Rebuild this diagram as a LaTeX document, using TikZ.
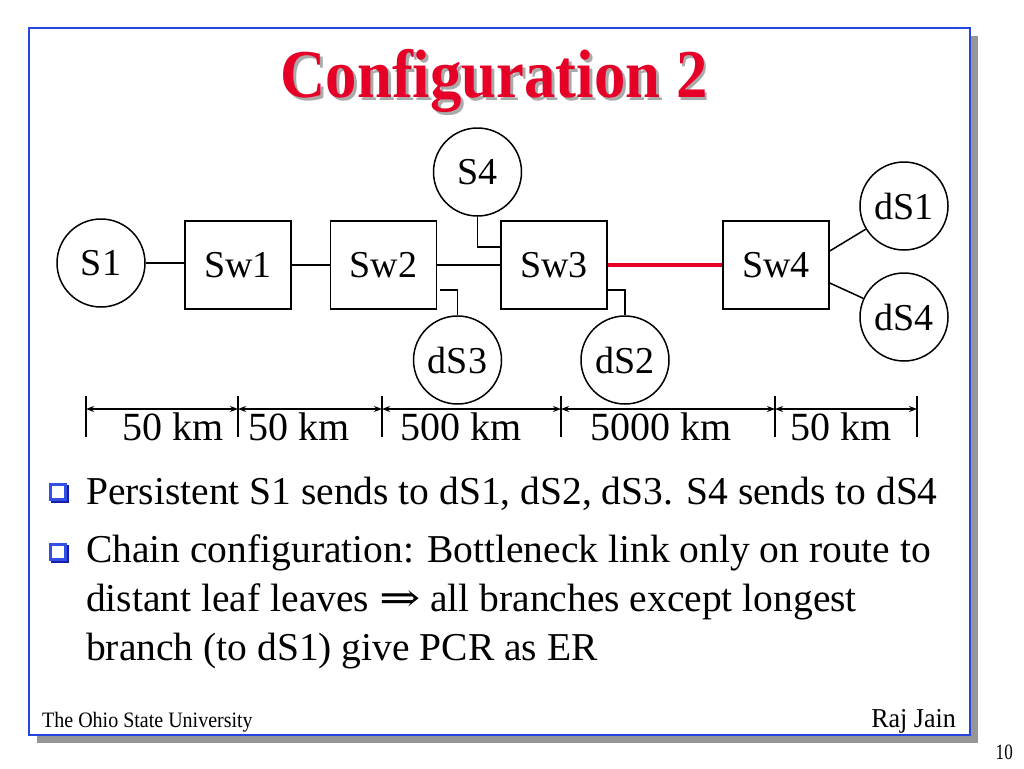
\documentclass[tikz,border=0pt]{standalone}
\usepackage{fontspec}
\setmainfont{Liberation Serif}
\newfontfamily\arrowfont{DejaVu Serif}
\usetikzlibrary{arrows.meta,calc}
\definecolor{frameblue}{RGB}{35,70,220}
\definecolor{titlered}{RGB}{230,0,40}
\definecolor{shadowgrey}{RGB}{150,150,150}
\definecolor{titleshadow}{RGB}{170,170,170}
\definecolor{bulletblue}{RGB}{50,80,230}
\definecolor{bulletdark}{RGB}{20,30,170}
\begin{document}
\begin{tikzpicture}[x=1pt,y=-1pt,
  every node/.style={font=\fontsize{38}{40}\selectfont},
  station/.style={draw,circle,line width=1.5pt,minimum size=88pt,inner sep=0pt},
  switchbox/.style={draw,rectangle,line width=1.5pt,minimum width=106pt,minimum height=88pt,inner sep=0pt},
  link/.style={line width=1.5pt},
  bottleneck/.style={line width=3.5pt,draw=titlered},
  dimline/.style={line width=1.5pt,{Stealth[length=8pt,width=6pt]}-{Stealth[length=8pt,width=6pt]}},
  tickline/.style={line width=1.5pt},
  dimlabel/.style={font=\fontsize{40}{42}\selectfont,anchor=base},
  bodytext/.style={font=\fontsize{39.5}{42}\selectfont,anchor=base west,inner sep=0pt},
  bulletsq/.style={draw=bulletblue,fill=white,line width=3pt,minimum size=15pt,inner sep=0pt},
  bulletsh/.style={fill=bulletdark,minimum size=18pt,inner sep=0pt},
]
\useasboundingbox (0,0) rectangle (1024,768);
\fill[white] (0,0) rectangle (1024,768);
% slide frame with shadow
\fill[shadowgrey] (37,36) rectangle (978,743);
\draw[frameblue,fill=white,line width=2.5pt] (29,28) rectangle (970,735);
% title (with its shadow)
\node[font=\fontsize{64}{64}\bfseries\selectfont,text=titlered,anchor=base,inner sep=0pt] (title) at (494,97)
  {\scalebox{0.98}[1.07]{\makebox[0pt][l]{\hspace{3pt}\raisebox{-3pt}{\color{titleshadow}Configuration 2}}Configuration 2}};
% network
\node[station] (S1) at (101,263) {S1};
\node[switchbox] (Sw1) at (238,265) {Sw1};
\node[switchbox] (Sw2) at (383.5,265) {Sw2};
\node[switchbox] (Sw3) at (554,265) {Sw3};
\node[switchbox] (Sw4) at (776,265) {Sw4};
\node[station] (S4) at (477.5,172) {S4};
\node[station] (dS3) at (457.5,360) {dS3};
\node[station] (dS2) at (625,360) {dS2};
\node[station] (dS1) at (904,206) {dS1};
\node[station] (dS4) at (904,317) {dS4};
\draw[link] (S1.east) -- (Sw1.west |- S1.east);
\draw[link] (Sw1) -- (Sw2);
\draw[link] (Sw2) -- (Sw3);
\draw[bottleneck] (Sw3) -- (Sw4);
\draw[link] (S4.south) |- ([yshift=18pt]Sw3.west);
\draw[link] ([yshift=-25pt,xshift=3pt]Sw2.east) -| (dS3.north);
\draw[link] ([yshift=-25pt]Sw3.east) -| (dS2.north);
\draw[link] ([yshift=14pt]Sw4.east) -- (dS1);
\draw[link] ([yshift=-18pt]Sw4.east) -- (dS4);
% distance scale
\coordinate (t0) at (86,409);
\coordinate (t1) at (238,409);
\coordinate (t2) at (382,409);
\coordinate (t3) at (561,409);
\coordinate (t4) at (775,409);
\coordinate (t5) at (917,409);
\foreach \t in {t0,t1,t2,t3,t4,t5}{
  \draw[tickline] ([yshift=13pt]\t) -- ([yshift=-28pt]\t);
}
\draw[dimline] (t0) -- (t1);
\draw[dimline] (t1) -- (t2);
\draw[dimline] (t2) -- (t3);
\draw[dimline] (t3) -- (t4);
\draw[dimline] (t4) -- (t5);
\node[dimlabel] (d1) at (173,440) {50 km};
\node[dimlabel] (d2) at (299,440) {50 km};
\node[dimlabel] (d3) at (461,440) {500 km};
\node[dimlabel] (d4) at (661,440) {5000 km};
\node[dimlabel] (d5) at (841,440) {50 km};
% bullets
\node[bulletsh] (b1s) at (60,494) {};
\node[bulletsq] (b1) at (58,492) {};
\node[bulletsh] (b2s) at (60,554) {};
\node[bulletsq] (b2) at (58,552) {};
\node[bodytext] (l1) at (86,504) {Persistent S1 sends to dS1, dS2, dS3. S4 sends to dS4};
\node[bodytext] (l2) at (86,562) {Chain configuration: Bottleneck link only on route to};
\node[bodytext] (l3) at (86,611) {distant leaf leaves {\arrowfont\scalebox{1.25}[1]{⇒}} all branches except longest};
\node[bodytext] (l4) at (86,660) {branch (to dS1) give PCR as ER};
% footer
\node[font=\fontsize{20}{21}\selectfont,anchor=base west,inner sep=0pt] (osu) at (42,727) {\scalebox{1}[1.1]{The Ohio State University}};
\node[font=\fontsize{26}{27}\selectfont,anchor=base east,inner sep=0pt] (raj) at (956,727) {\scalebox{1}[1.05]{Raj Jain}};
\node[font=\fontsize{19}{20}\selectfont,anchor=base east,inner sep=0pt] (pg) at (1013,759) {\scalebox{0.9}[1.15]{10}};
\end{tikzpicture}
\end{document}
